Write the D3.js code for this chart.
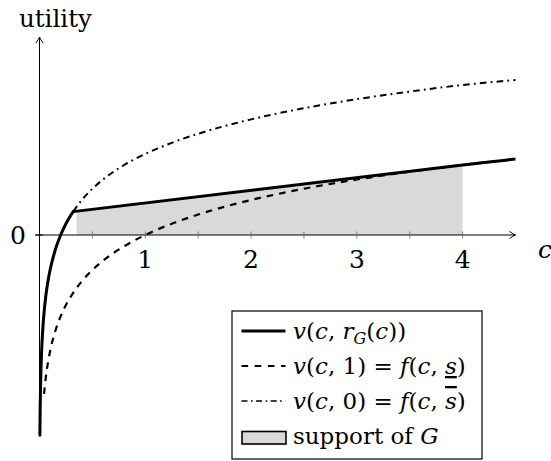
<!DOCTYPE html>
<html>
<head>
<meta charset="utf-8">
<script src="https://cdn.jsdelivr.net/npm/d3@7.9.0/dist/d3.min.js"></script>
<style>
  body { margin: 0; background: #fff; }
  svg { display: block; }
  text, tspan { font-family: "DejaVu Serif", serif; fill: #000; }
</style>
</head>
<body>
<svg id="chart" width="551" height="461"></svg>
<script>
// values (c on x, utility on y)
const dashedC = [0.043, 0.05, 0.06, 0.07, 0.08, 0.1, 0.12, 0.15, 0.2, 0.25, 0.3, 0.4, 0.5, 0.6, 0.8, 1, 1.25, 1.5, 2, 2.5, 3, 3.5, 4, 4.5];
const dashedU = [-3.147, -2.996, -2.813, -2.659, -2.526, -2.303, -2.12, -1.897, -1.609, -1.386, -1.204, -0.916, -0.693, -0.511, -0.223, 0, 0.223, 0.405, 0.693, 0.916, 1.099, 1.253, 1.386, 1.504];

const dashDotC = [0.318, 0.4, 0.5, 0.6, 0.8, 1, 1.25, 1.5, 2, 2.5, 3, 3.5, 4, 4.5];
const dashDotU = [0.463, 0.693, 0.916, 1.098, 1.386, 1.605, 1.825, 2.005, 2.29, 2.51, 2.69, 2.84, 2.97, 3.07];

// solid: curved part up to the kink, then the straight part
const solidCurveC = [0.0038, 0.005, 0.007, 0.01, 0.015, 0.02, 0.03, 0.04, 0.06, 0.08, 0.1, 0.15, 0.2, 0.25, 0.3, 0.318];
const solidCurveU = [-3.964, -3.689, -3.353, -2.996, -2.591, -2.303, -1.898, -1.61, -1.204, -0.917, -0.694, -0.288, 0, 0.223, 0.405, 0.463];
const solidLineC = [0.318, 4, 4.25, 4.5];
const solidLineU = [0.463, 1.386, 1.447, 1.504];

const supportC = [0.35, 4];
const supportU = [0.474, 1.386];

const xTicks = [0.5, 1, 1.5, 2, 2.5, 3, 3.5, 4];
const xTickLabels = [1, 2, 3, 4];

// legend labels as [text, style] pieces
const legendLabels = [
  [["v", "i"], ["(", ""], ["c", "i"], [", ", ""], ["r", "i"], ["G", "sub"], ["(", ""], ["c", "i"], ["))", ""]],
  [["v", "i"], ["(", ""], ["c", "i"], [", 1) = ", ""], ["f", "i"], ["(", ""], ["c", "i"], [", ", ""], ["s", "under"], [")", ""]],
  [["v", "i"], ["(", ""], ["c", "i"], [", 0) = ", ""], ["f", "i"], ["(", ""], ["c", "i"], [", ", ""], ["s", "over"], [")", ""]],
  [["support of ", ""], ["G", "i"]]
];

const svg = d3.select('#chart');
const x = d3.scaleLinear().domain([0, 4.5]).range([39.5, 515.5]);
const y = d3.scaleLinear().domain([0, 1]).range([235, 184.5]);

const line = d3.line().x(d => x(d[0])).y(d => y(d[1])).curve(d3.curveMonotoneX);
const straight = d3.line().x(d => x(d[0])).y(d => y(d[1]));

// support of G
let area = d3.area().x(d => x(d[0])).y0(y(0)).y1(d => y(d[1]));
svg.append('path')
  .attr('d', area(d3.zip(supportC, supportU)))
  .attr('fill', '#d9d9d9');

// axes
const arrow = (g, px, py, rot) => {
  g.append('path')
    .attr('d', 'M-6,-3.6 Q-2.5,-1 0,0 Q-2.5,1 -6,3.6')
    .attr('transform', `translate(${px},${py}) rotate(${rot})`)
    .attr('fill', 'none').attr('stroke', '#000').attr('stroke-width', 1);
};
let axes = svg.append('g');
axes.append('line')
  .attr('x1', x(-0.04)).attr('x2', x(4.5)).attr('y1', y(0)).attr('y2', y(0))
  .attr('stroke', '#000').attr('stroke-width', 1);
arrow(axes, x(4.5), y(0), 0);
axes.append('line')
  .attr('x1', x(0)).attr('x2', x(0)).attr('y1', y(-3.96)).attr('y2', y(3.92))
  .attr('stroke', '#000').attr('stroke-width', 1);
arrow(axes, x(0), y(3.92), -90);

axes.selectAll('.xt').data(xTicks).join('line')
  .attr('x1', d => x(d)).attr('x2', d => x(d))
  .attr('y1', y(0) - 3.5).attr('y2', y(0) + 3.5)
  .attr('stroke', '#666').attr('stroke-width', 0.8);
axes.append('line')
  .attr('x1', x(0) - 4).attr('x2', x(0) + 3.5).attr('y1', y(0)).attr('y2', y(0))
  .attr('stroke', '#000').attr('stroke-width', 1);

axes.selectAll('.xl').data(xTickLabels).join('text')
  .attr('x', d => x(d)).attr('y', 268)
  .attr('text-anchor', 'middle').attr('font-size', 25)
  .text(d => d);
axes.append('text').attr('x', 26).attr('y', 244)
  .attr('text-anchor', 'end').attr('font-size', 25).text('0');
axes.append('text').attr('x', 538).attr('y', 258)
  .attr('font-size', 25).attr('font-style', 'italic').text('c');
axes.append('text').attr('x', 19).attr('y', 27)
  .attr('font-size', 24.5).text('utility');

// curves
svg.append('path')
  .attr('d', line(d3.zip(dashedC, dashedU)))
  .attr('fill', 'none').attr('stroke', '#000').attr('stroke-width', 2.2)
  .attr('stroke-dasharray', '6.6,6');
svg.append('path')
  .attr('d', line(d3.zip(dashDotC, dashDotU)))
  .attr('fill', 'none').attr('stroke', '#000').attr('stroke-width', 2)
  .attr('stroke-dasharray', '6.6,4.2,1.8,4.2');
svg.append('path')
  .attr('d', line(d3.zip(solidCurveC, solidCurveU)))
  .attr('fill', 'none').attr('stroke', '#000').attr('stroke-width', 3)
  .attr('stroke-linecap', 'round');
svg.append('path')
  .attr('d', straight(d3.zip(solidLineC, solidLineU)))
  .attr('fill', 'none').attr('stroke', '#000').attr('stroke-width', 3)
  .attr('stroke-linejoin', 'round');

// legend
let legend = svg.append('g');
legend.append('rect')
  .attr('x', 232).attr('y', 311).attr('width', 250).attr('height', 148)
  .attr('fill', '#fff').attr('stroke', '#000').attr('stroke-width', 1.2);

const rowY = i => 339 + i * 35;
const samples = [
  { w: 3, dash: null },
  { w: 2, dash: '6.6,6.6' },
  { w: 1.6, dash: '6,3.5,1.6,3.5' }
];
samples.forEach((s, i) => {
  legend.append('line')
    .attr('x1', 241.5).attr('x2', 285.5)
    .attr('y1', rowY(i) - 8).attr('y2', rowY(i) - 8)
    .attr('stroke', '#000').attr('stroke-width', s.w)
    .attr('stroke-dasharray', s.dash);
});
legend.append('rect')
  .attr('x', 242).attr('y', rowY(3) - 12.5).attr('width', 44).attr('height', 12.5)
  .attr('fill', '#d9d9d9').attr('stroke', '#000').attr('stroke-width', 1.6);

legendLabels.forEach((parts, i) => {
  let t = legend.append('text')
    .attr('x', 293).attr('y', rowY(i)).attr('font-size', 23);
  let shift = 0;
  parts.forEach(([txt, st]) => {
    let sp = t.append('tspan').text(txt);
    if (st === 'sub') {
      sp.attr('font-style', 'italic').attr('font-size', 16).attr('dy', 5);
      shift = 5;
    } else {
      if (shift) { sp.attr('dy', -shift); shift = 0; }
      if (st === 'i' || st === 'under' || st === 'over') sp.attr('font-style', 'italic');
      if (st === 'under') sp.style('text-decoration', 'underline');
      if (st === 'over') sp.style('text-decoration', 'overline');
    }
  });
});
</script>
</body>
</html>
